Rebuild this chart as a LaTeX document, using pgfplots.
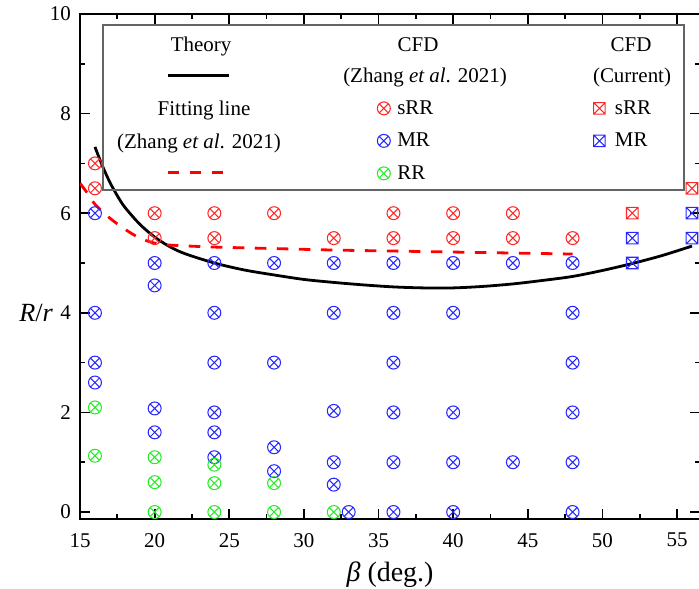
\documentclass[border=0pt]{standalone}
\usepackage{fontspec}
\setmainfont{Liberation Serif}
\usepackage{pgfplots}
\pgfplotsset{compat=1.18}
\usetikzlibrary{plotmarks}
\definecolor{mred}{RGB}{255,40,40}
\definecolor{mblue}{RGB}{40,40,255}
\definecolor{mgreen}{RGB}{40,235,40}
\definecolor{frame}{RGB}{100,100,100}
\pgfdeclareplotmark{boxx}{%
  \pgfpathrectangle{\pgfpoint{-\pgfplotmarksize}{-\pgfplotmarksize}}{\pgfpoint{2\pgfplotmarksize}{2\pgfplotmarksize}}%
  \pgfpathmoveto{\pgfpoint{-\pgfplotmarksize}{-\pgfplotmarksize}}%
  \pgfpathlineto{\pgfpoint{\pgfplotmarksize}{\pgfplotmarksize}}%
  \pgfpathmoveto{\pgfpoint{-\pgfplotmarksize}{\pgfplotmarksize}}%
  \pgfpathlineto{\pgfpoint{\pgfplotmarksize}{-\pgfplotmarksize}}%
  \pgfusepathqstroke}
\pgfplotsset{
  common/.style={scale only axis, width=354.8pt, height=289pt,
    xmin=15, xmax=56.54, ymin=-0.14, ymax=10},
  legbase/.style={legend cell align=left,
    legend style={draw=none, fill=none, inner sep=0pt,
      nodes={inner sep=0pt, text height=8.5pt, text depth=1.5pt, font=\fontsize{12}{14}\selectfont}}},
}
\begin{document}
\begin{tikzpicture}
\begin{axis}[common,
  axis line style={line width=1.1pt},
  tick style={black, line width=1.0pt},
  major tick length=5.7pt, minor tick length=2.9pt,
  tick align=inside,
  xtick={15,20,...,55}, ytick={0,2,...,10},
  minor x tick num=1, minor y tick num=1,
  tick label style={font=\fontsize{12}{14}\selectfont},
  xticklabel style={yshift=-4.6pt},
  yticklabel style={xshift=-1.7pt},
  /pgf/number format/assume math mode=true,
  every axis x label/.style={at={(axis description cs:0.5,0)}, anchor=center, yshift=-32pt, font=\fontsize{16}{19}\selectfont},
  every axis y label/.style={at={(axis description cs:0,0.408)}, anchor=east, xshift=-12pt, font=\fontsize{15}{18}\selectfont},
  xlabel={\textit{β} (deg.)}, ylabel={\textit{R}/\textit{r}},
  legbase,
  legend style={at={(axis description cs:0.479,0.8311)}, anchor=north west, row sep=8.6pt, column sep=4.0pt},
  legend image code/.code={\draw[#1] plot coordinates {(0pt,0pt)};},
]
\addplot[only marks, mark=otimes, mark size=3.7pt, mred, mark options={line width=0.6pt}] coordinates {
(16,7.0)(16,6.5)(20,6.0)(20,5.5)(24,6.0)(24,5.5)(28,6.0)(32,5.5)(36,6.0)(36,5.5)(40,6.0)(40,5.5)(44,6.0)(44,5.5)(48,5.5)};
\addlegendentry{sRR}
\addplot[only marks, mark=otimes, mark size=3.7pt, mblue, mark options={line width=0.6pt}] coordinates {
(16,6)(16,4)(16,3)(16,2.6)(20,5)(20,4.55)(20,2.08)(20,1.6)(24,5)(24,4)(24,3)(24,2)(24,1.6)(24,1.1)
(28,5)(28,3)(28,1.3)(28,0.82)(32,5)(32,4)(32,2.03)(32,1)(32,0.55)(33,0)(36,5)(36,4)(36,3)(36,2)(36,1)(36,0)
(40,5)(40,4)(40,2)(40,1)(40,0)(44,5)(44,1)(48,5)(48,4)(48,3)(48,2)(48,1)(48,0)};
\addlegendentry{MR}
\addplot[only marks, mark=otimes, mark size=3.7pt, mgreen, mark options={line width=0.6pt}] coordinates {
(16,2.1)(16,1.13)(20,1.1)(20,0.6)(20,0)(24,0.95)(24,0.58)(24,0)(28,0.58)(28,0)(32,0)};
\addlegendentry{RR}
\addplot[forget plot, only marks, mark=boxx, mark size=3.3pt, mred, mark options={line width=0.6pt}] coordinates {(52,6)(56,6.5)};
\addplot[forget plot, only marks, mark=boxx, mark size=3.3pt, mblue, mark options={line width=0.6pt}] coordinates {(52,5.5)(52,5)(56,6)(56,5.5)};
\addplot[forget plot, black, line width=1.6pt, smooth] coordinates {
(16,7.33)(16.5,6.95)(17,6.62)(17.5,6.35)(18,6.12)(19,5.78)(20,5.52)(21,5.33)(22,5.19)(24,5.0)(26,4.86)(28,4.76)(30,4.67)(32,4.61)(34,4.56)(36,4.52)(38,4.5)(40,4.5)(42,4.53)(44,4.58)(46,4.65)(48,4.73)(50,4.85)(52,4.99)(54,5.15)(56,5.34)};
\addplot[forget plot, red, line width=1.6pt, dash pattern=on 6.6pt off 6pt, smooth] coordinates {
(15,6.6)(15.5,6.4)(16,6.18)(17,5.9)(18,5.68)(19,5.5)(20,5.4)(21,5.36)(24,5.32)(28,5.29)(32,5.26)(36,5.24)(40,5.22)(44,5.2)(48,5.18)};
\draw[frame, line width=0.7pt] (axis description cs:0.0371,0.6515) rectangle (axis description cs:0.9742,0.9782);
\begin{scope}[every node/.style={anchor=base, inner sep=0pt, font=\fontsize{12}{14}\selectfont}]
\node at (axis description cs:0.1952,0.9248) {Theory};
\node at (axis description cs:0.2,0.798) {Fitting line};
\node at (axis description cs:0.1919,0.7327) {(Zhang \textit{et al}. 2021)};
\node at (axis description cs:0.5452,0.9248) {CFD};
\node at (axis description cs:0.5565,0.8634) {(Zhang \textit{et al}. 2021)};
\node at (axis description cs:0.8887,0.9248) {CFD};
\node at (axis description cs:0.8903,0.8634) {(Current)};
\end{scope}
\end{axis}
\begin{axis}[common, hide axis, legbase,
  legend style={at={(axis description cs:0.1387,0.8964)}, anchor=north west, row sep=45.5pt},
  legend image code/.code={\draw[#1] (0pt,0pt) -- (34.9pt,0pt);}]
\addlegendimage{black, line width=1.6pt}
\addlegendentry{}
\addlegendimage{red, line width=1.6pt, dash pattern=on 6.6pt off 6pt}
\addlegendentry{}
\end{axis}
\begin{axis}[common, hide axis, legbase,
  legend style={at={(axis description cs:0.8278,0.8311)}, anchor=north west, row sep=8.6pt, column sep=5.6pt},
  legend image code/.code={\draw[#1] plot coordinates {(0pt,0pt)};}]
\addlegendimage{only marks, mark=boxx, mark size=3.3pt, mred, mark options={line width=0.6pt}}
\addlegendentry{sRR}
\addlegendimage{only marks, mark=boxx, mark size=3.3pt, mblue, mark options={line width=0.6pt}}
\addlegendentry{MR}
\end{axis}
\pgfresetboundingbox
\path[use as bounding box] (-45.8pt,-40.05pt) rectangle (354.2pt,297pt);
\end{tikzpicture}
\end{document}
